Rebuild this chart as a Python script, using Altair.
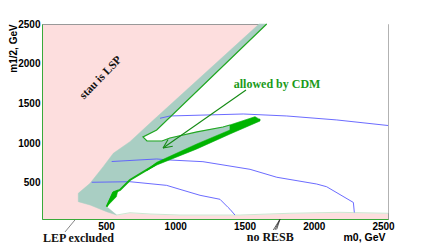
import altair as alt
import pandas as pd

# ---- data (m0, m1/2 in GeV) ----
white_x = [1660, 2536, 2536, 2189, 1828, 1468, 1034, 818, 673, 577, 505, 767, 866]
white_y = [2500, 2500, 119, 131, 119, 97, 97, 110, 126, 97, 202, 1079, 1167]

teal_x = [1605, 1660, 866, 767, 796, 904, 962, 1157, 1345, 1395, 1576, 1612, 1612, 1395, 1155, 866, 794,
          673, 601, 551, 505, 577, 505, 385, 300, 300, 385, 480, 553, 673, 817]
teal_y = [2500, 2500, 1167, 1079, 1028, 1028, 1066, 1142, 1204, 1230, 1334, 1305, 1280, 1116, 928, 726, 664,
          538, 412, 374, 202, 97, 139, 223, 265, 370, 496, 705, 874, 1020, 1251]

band_x = [794, 866, 1155, 1395, 1612, 1612, 1395, 1155, 866, 794]
band_y = [664, 760, 991, 1167, 1305, 1280, 1116, 928, 726, 655]

tip_x = [1395, 1576, 1612, 1395]
tip_y = [1230, 1334, 1293, 1146]

tri_x = [505, 551, 587, 575]
tri_y = [202, 390, 412, 327]

diag_x = [1660, 866, 767, 796, 904, 962, 1157, 1345, 1395]
diag_y = [2500, 1167, 1079, 1028, 1028, 1066, 1142, 1204, 1230]

lower_x = [505, 551, 601, 673, 794, 866]
lower_y = [202, 374, 412, 538, 664, 740]

floor_x = [577, 673, 818, 1034, 1468, 1828, 2189, 2536]
floor_y = [97, 126, 110, 97, 97, 119, 131, 119]

blueA_x = [890, 962, 1491, 1805, 2166, 2536]
blueA_y = [1314, 1343, 1368, 1343, 1293, 1223]
blueB_x = [541, 866, 962, 1200, 1540, 1733, 2021, 2093, 2286, 2293]
blueB_y = [770, 802, 789, 768, 672, 572, 487, 453, 255, 129]
blueC_x = [397, 673, 938, 1034, 1179, 1323, 1380, 1395, 1431]
blueC_y = [509, 516, 470, 420, 345, 295, 195, 170, 97]

arrow_x = [1511, 912, 982, 912, 948]
arrow_y = [1670, 940, 962, 940, 1048]

lep_x = [204, 276]
lep_y = [-116, 35]
resb_x = [1708, 1756, 1720, 1756, 1732, 1756]
resb_y = [-91, 43, -91, 43, -85, 43]

ticks = [500, 1000, 1500, 2000, 2500]

xs = alt.Scale(domain=[38, 2536], nice=False, zero=False)
ys = alt.Scale(domain=[47, 2500], nice=False, zero=False)


def frame(xv, yv, group=None):
    d = pd.DataFrame({"x": xv, "y": yv, "i": list(range(len(xv)))})
    d["g"] = group if group is not None else 0
    return d


def poly(xv, yv, color, axes=False):
    d = frame(xv + [xv[0]], yv + [yv[0]])
    if axes:
        xe = alt.X("x:Q", scale=xs, axis=alt.Axis(
            values=ticks, format="d", grid=False, ticks=False, labelPadding=2,
            labelFont="Liberation Sans", labelFontWeight="bold", labelFontSize=10,
            labelColor="black", labelFlush=False, domainColor="#3aaa3a",
            title="m0, GeV", titleX=322, titleY=18, titleAlign="center",
            titleBaseline="middle", titleFont="Liberation Sans",
            titleFontWeight="bold", titleFontSize=10.5, titleColor="black"))
        ye = alt.Y("y:Q", scale=ys, axis=alt.Axis(
            values=ticks, format="d", grid=False, ticks=False, labelPadding=2,
            labelFont="Liberation Sans", labelFontWeight="bold", labelFontSize=10,
            labelColor="black", labelFlush=False, domainColor="#3aaa3a",
            title="m1/2, GeV", titleX=-29, titleY=24, titleAngle=270,
            titleAlign="center", titleBaseline="middle", titleFont="Liberation Sans",
            titleFontWeight="bold", titleFontSize=10, titleColor="black"))
    else:
        xe = alt.X("x:Q", scale=xs)
        ye = alt.Y("y:Q", scale=ys)
    return alt.Chart(d).mark_line(fill=color, stroke=color, strokeWidth=0.5).encode(
        x=xe, y=ye, order="i:Q")


def line(d, color, width):
    return alt.Chart(d).mark_line(color=color, strokeWidth=width).encode(
        x=alt.X("x:Q", scale=xs), y=alt.Y("y:Q", scale=ys),
        order="i:Q", detail="g:N")


blue = pd.concat([frame(blueA_x, blueA_y, "A"), frame(blueB_x, blueB_y, "B"),
                  frame(blueC_x, blueC_y, "C")])
arrow = pd.concat([frame(arrow_x[:2], arrow_y[:2], "a"), frame(arrow_x[1:3], arrow_y[1:3], "b"),
                   frame(arrow_x[3:5], arrow_y[3:5], "c")])
resb = pd.concat([frame(resb_x[k:k + 2], resb_y[k:k + 2], str(k)) for k in (0, 2, 4)])


def text(xv, yv, label, color, size, font, angle=0, align="center"):
    d = pd.DataFrame({"x": [xv], "y": [yv], "t": [label]})
    return alt.Chart(d).mark_text(color=color, fontSize=size, font=font, fontWeight="bold",
                                  angle=angle, align=align, baseline="middle").encode(
        x=alt.X("x:Q", scale=xs), y=alt.Y("y:Q", scale=ys), text="t:N")


layers = [
    poly(white_x, white_y, "#ffffff", axes=True),
    poly(teal_x, teal_y, "#a9cec3"),
    line(frame(floor_x, floor_y), "#cde8d2", 1),
    line(blue, "#5a5aff", 0.9),
    line(frame(diag_x, diag_y), "#22a822", 1.2),
    line(frame(lower_x, lower_y), "#10b010", 2),
    poly(band_x, band_y, "#00b400"),
    poly(tip_x, tip_y, "#00b400"),
    poly(tri_x, tri_y, "#00b400"),
    line(arrow, "#148a14", 1.1),
    line(frame(lep_x, lep_y), "#666666", 0.8),
    line(resb, "#333333", 0.8),
    text(464, 1821, "stau is LSP", "#111111", 11.5, "Liberation Serif", angle=314),
    text(1735, 1745, "allowed by CDM", "#1a9a1a", 12, "Liberation Serif"),
    text(301, -188, "LEP excluded", "#111111", 12, "Liberation Serif"),
    text(1686, -179, "no RESB", "#111111", 12, "Liberation Serif"),
]

chart = alt.layer(*layers).properties(
    width=346, height=195, autosize="none",
    padding={"left": 34, "top": 16, "right": 36, "bottom": 26},
).configure_view(fill="#fddede", stroke="#999999", strokeWidth=1)

chart.save("out.html", embed_options={"renderer": "svg", "actions": False})
